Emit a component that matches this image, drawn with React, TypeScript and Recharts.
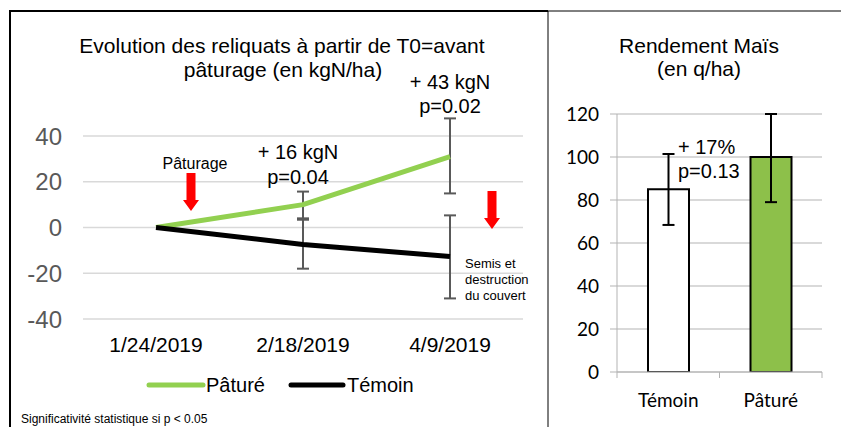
import React from "react";
import { Bar, BarChart, CartesianGrid, Cell, ComposedChart, ErrorBar, Line, XAxis, YAxis } from "recharts";

// Reliquats (kgN/ha) relative to T0
const dates = ["1/24/2019", "2/18/2019", "4/9/2019"];
const patureValues = [0, 10, 31];
const patureErrors: ([number, number] | null)[] = [null, [6, 5.7], [16.1, 16.7]];
const temoinValues = [0, -7.4, -12.7];
const temoinErrors: ([number, number] | null)[] = [null, [10.6, 10.8], [18.3, 18]];
const reliquatTicks = [-40, -20, 0, 20, 40];
const seriesNames = ["Pâturé", "Témoin"];
const seriesColors = ["#92D050", "#000000"];

// Rendement maïs (q/ha)
const yieldGroups = ["Témoin", "Pâturé"];
const yieldValues = [85, 100];
const yieldErrors: [number, number][] = [[16.6, 16.4], [21, 20]];
const yieldFills = ["#ffffff", "#8DC04A"];
const yieldTicks = [0, 20, 40, 60, 80, 100, 120];

const reliquatData = dates.map((date, i) => ({
  date,
  pature: patureValues[i],
  patureErr: patureErrors[i],
  temoin: temoinValues[i],
  temoinErr: temoinErrors[i],
}));

const yieldData = yieldGroups.map((group, i) => ({
  group,
  value: yieldValues[i],
  err: yieldErrors[i],
}));

const ARIAL = '"Liberation Sans", Arial, sans-serif';
const CALIBRI = 'Lato, "Open Sans", sans-serif';

function GroupTick(props: any) {
  const { x, y, payload, index, visibleTicksCount } = props;
  const half = payload?.offset ?? 0;
  return (
    <g>
      <line x1={x - half} x2={x - half} y1={y} y2={y + 6} stroke="#b3b3b3" />
      {index === visibleTicksCount - 1 && (
        <line x1={x + half} x2={x + half} y1={y} y2={y + 6} stroke="#b3b3b3" />
      )}
      <text x={x} y={y + 35} textAnchor="middle" fontSize={19} fill="#000" fontFamily={CALIBRI}>
        {payload.value}
      </text>
    </g>
  );
}

function arrow(cx: number, top: number, tip: number) {
  const neck = tip - 11;
  return `${cx - 4.5},${top} ${cx + 4.5},${top} ${cx + 4.5},${neck} ${cx + 8},${neck} ${cx},${tip} ${cx - 8},${neck} ${cx - 4.5},${neck}`;
}

export default function App() {
  return (
    <div style={{ position: "relative", width: 841, height: 427, overflow: "hidden", background: "#fff", fontFamily: ARIAL }}>
      <style>{"body{margin:0}"}</style>

      <div style={{ position: "absolute", left: 0, top: 0 }}>
        <ComposedChart width={548} height={427} data={reliquatData} margin={{ top: 136, right: 25, bottom: 78, left: 0 }}>
          <CartesianGrid vertical={false} stroke="#d9d9d9" strokeWidth={1.5} />
          <XAxis
            dataKey="date"
            axisLine={false}
            tickLine={false}
            tickSize={0}
            tickMargin={18}
            height={30}
            interval={0}
            padding={{ left: 73, right: 73 }}
            tick={{ fill: "#000", fontSize: 21, fontFamily: ARIAL }}
          />
          <YAxis
            domain={[-40, 40]}
            allowDataOverflow
            ticks={reliquatTicks}
            axisLine={false}
            tickLine={false}
            tickSize={0}
            tickMargin={21}
            width={83}
            tick={{ fill: "#595959", fontSize: 24, fontFamily: ARIAL }}
          />
          <Line type="linear" dataKey="pature" name={seriesNames[0]} stroke={seriesColors[0]} strokeWidth={5} strokeLinejoin="round" dot={false} isAnimationActive={false}>
            <ErrorBar dataKey="patureErr" width={6} stroke="#595959" strokeWidth={2} direction="y" />
          </Line>
          <Line type="linear" dataKey="temoin" name={seriesNames[1]} stroke={seriesColors[1]} strokeWidth={5} strokeLinejoin="round" dot={false} isAnimationActive={false}>
            <ErrorBar dataKey="temoinErr" width={6} stroke="#595959" strokeWidth={2} direction="y" />
          </Line>
        </ComposedChart>
      </div>

      <div style={{ position: "absolute", left: 548, top: 0 }}>
        <BarChart width={293} height={427} data={yieldData} margin={{ top: 114, right: 19, bottom: 25, left: 0 }} barSize={41}>
          <CartesianGrid vertical={false} stroke="#b3b3b3" />
          <XAxis
            dataKey="group"
            axisLine={{ stroke: "#b3b3b3" }}
            tickLine={false}
            tickSize={0}
            tickMargin={0}
            height={30}
            interval={0}
            tick={(p: any) => <GroupTick {...p} />}
          />
          <YAxis
            domain={[0, 120]}
            allowDataOverflow
            ticks={yieldTicks}
            width={69}
            axisLine={{ stroke: "#b3b3b3" }}
            tickLine={{ stroke: "#b3b3b3" }}
            tickSize={7}
            tickMargin={11}
            tick={{ fill: "#000", fontSize: 19, fontFamily: CALIBRI }}
          />
          <Bar dataKey="value" stroke="#000" strokeWidth={2} isAnimationActive={false}>
            {yieldData.map((d, i) => (
              <Cell key={d.group} fill={yieldFills[i]} />
            ))}
            <ErrorBar dataKey="err" width={6} stroke="#000" strokeWidth={2} direction="y" />
          </Bar>
        </BarChart>
      </div>

      <svg width={841} height={427} style={{ position: "absolute", left: 0, top: 0, pointerEvents: "none" }} fontFamily={ARIAL}>
        {/* panel frames */}
        <line x1={10} y1={11} x2={10} y2={427} stroke="#000" strokeWidth={2} />
        <line x1={9} y1={11} x2={548} y2={11} stroke="#000" strokeWidth={2} />
        <line x1={548} y1={11} x2={841} y2={11} stroke="#000" strokeWidth={1} />
        <line x1={548} y1={11} x2={548} y2={427} stroke="#000" strokeWidth={1} />

        {/* left titles & notes */}
        <text x={282} y={53} textAnchor="middle" fontSize={21}>Evolution des reliquats à partir de T0=avant</text>
        <text x={283} y={77} textAnchor="middle" fontSize={21}>pâturage (en kgN/ha)</text>
        <text x={450} y={89} textAnchor="middle" fontSize={20}>+ 43 kgN</text>
        <text x={450} y={113} textAnchor="middle" fontSize={20}>p=0.02</text>
        <text x={298} y={159} textAnchor="middle" fontSize={20}>+ 16 kgN</text>
        <text x={298} y={184} textAnchor="middle" fontSize={20}>p=0.04</text>
        <text x={195} y={169} textAnchor="middle" fontSize={16}>Pâturage</text>
        <polygon points={arrow(191, 173, 211)} fill="#ff0000" />
        <polygon points={arrow(492, 191, 229)} fill="#ff0000" />
        <text x={465} y={268} fontSize={13}>Semis et</text>
        <text x={465} y={284} fontSize={13}>destruction</text>
        <text x={465} y={300} fontSize={13}>du couvert</text>

        {/* legend */}
        <line x1={149} y1={385} x2={203} y2={385} stroke={seriesColors[0]} strokeWidth={5} strokeLinecap="round" />
        <text x={206} y={392} fontSize={20}>{seriesNames[0]}</text>
        <line x1={291} y1={385} x2={343} y2={385} stroke={seriesColors[1]} strokeWidth={5} strokeLinecap="round" />
        <text x={347} y={392} fontSize={20}>{seriesNames[1]}</text>

        <text x={21} y={423} fontSize={12}>Significativité statistique si p &lt; 0.05</text>

        {/* right titles */}
        <text x={699} y={53} textAnchor="middle" fontSize={21}>Rendement Maïs</text>
        <text x={699} y={76} textAnchor="middle" fontSize={21}>(en q/ha)</text>
        <text x={678} y={154} fontSize={20}>+ 17%</text>
        <text x={678} y={178} fontSize={20}>p=0.13</text>
      </svg>
    </div>
  );
}
